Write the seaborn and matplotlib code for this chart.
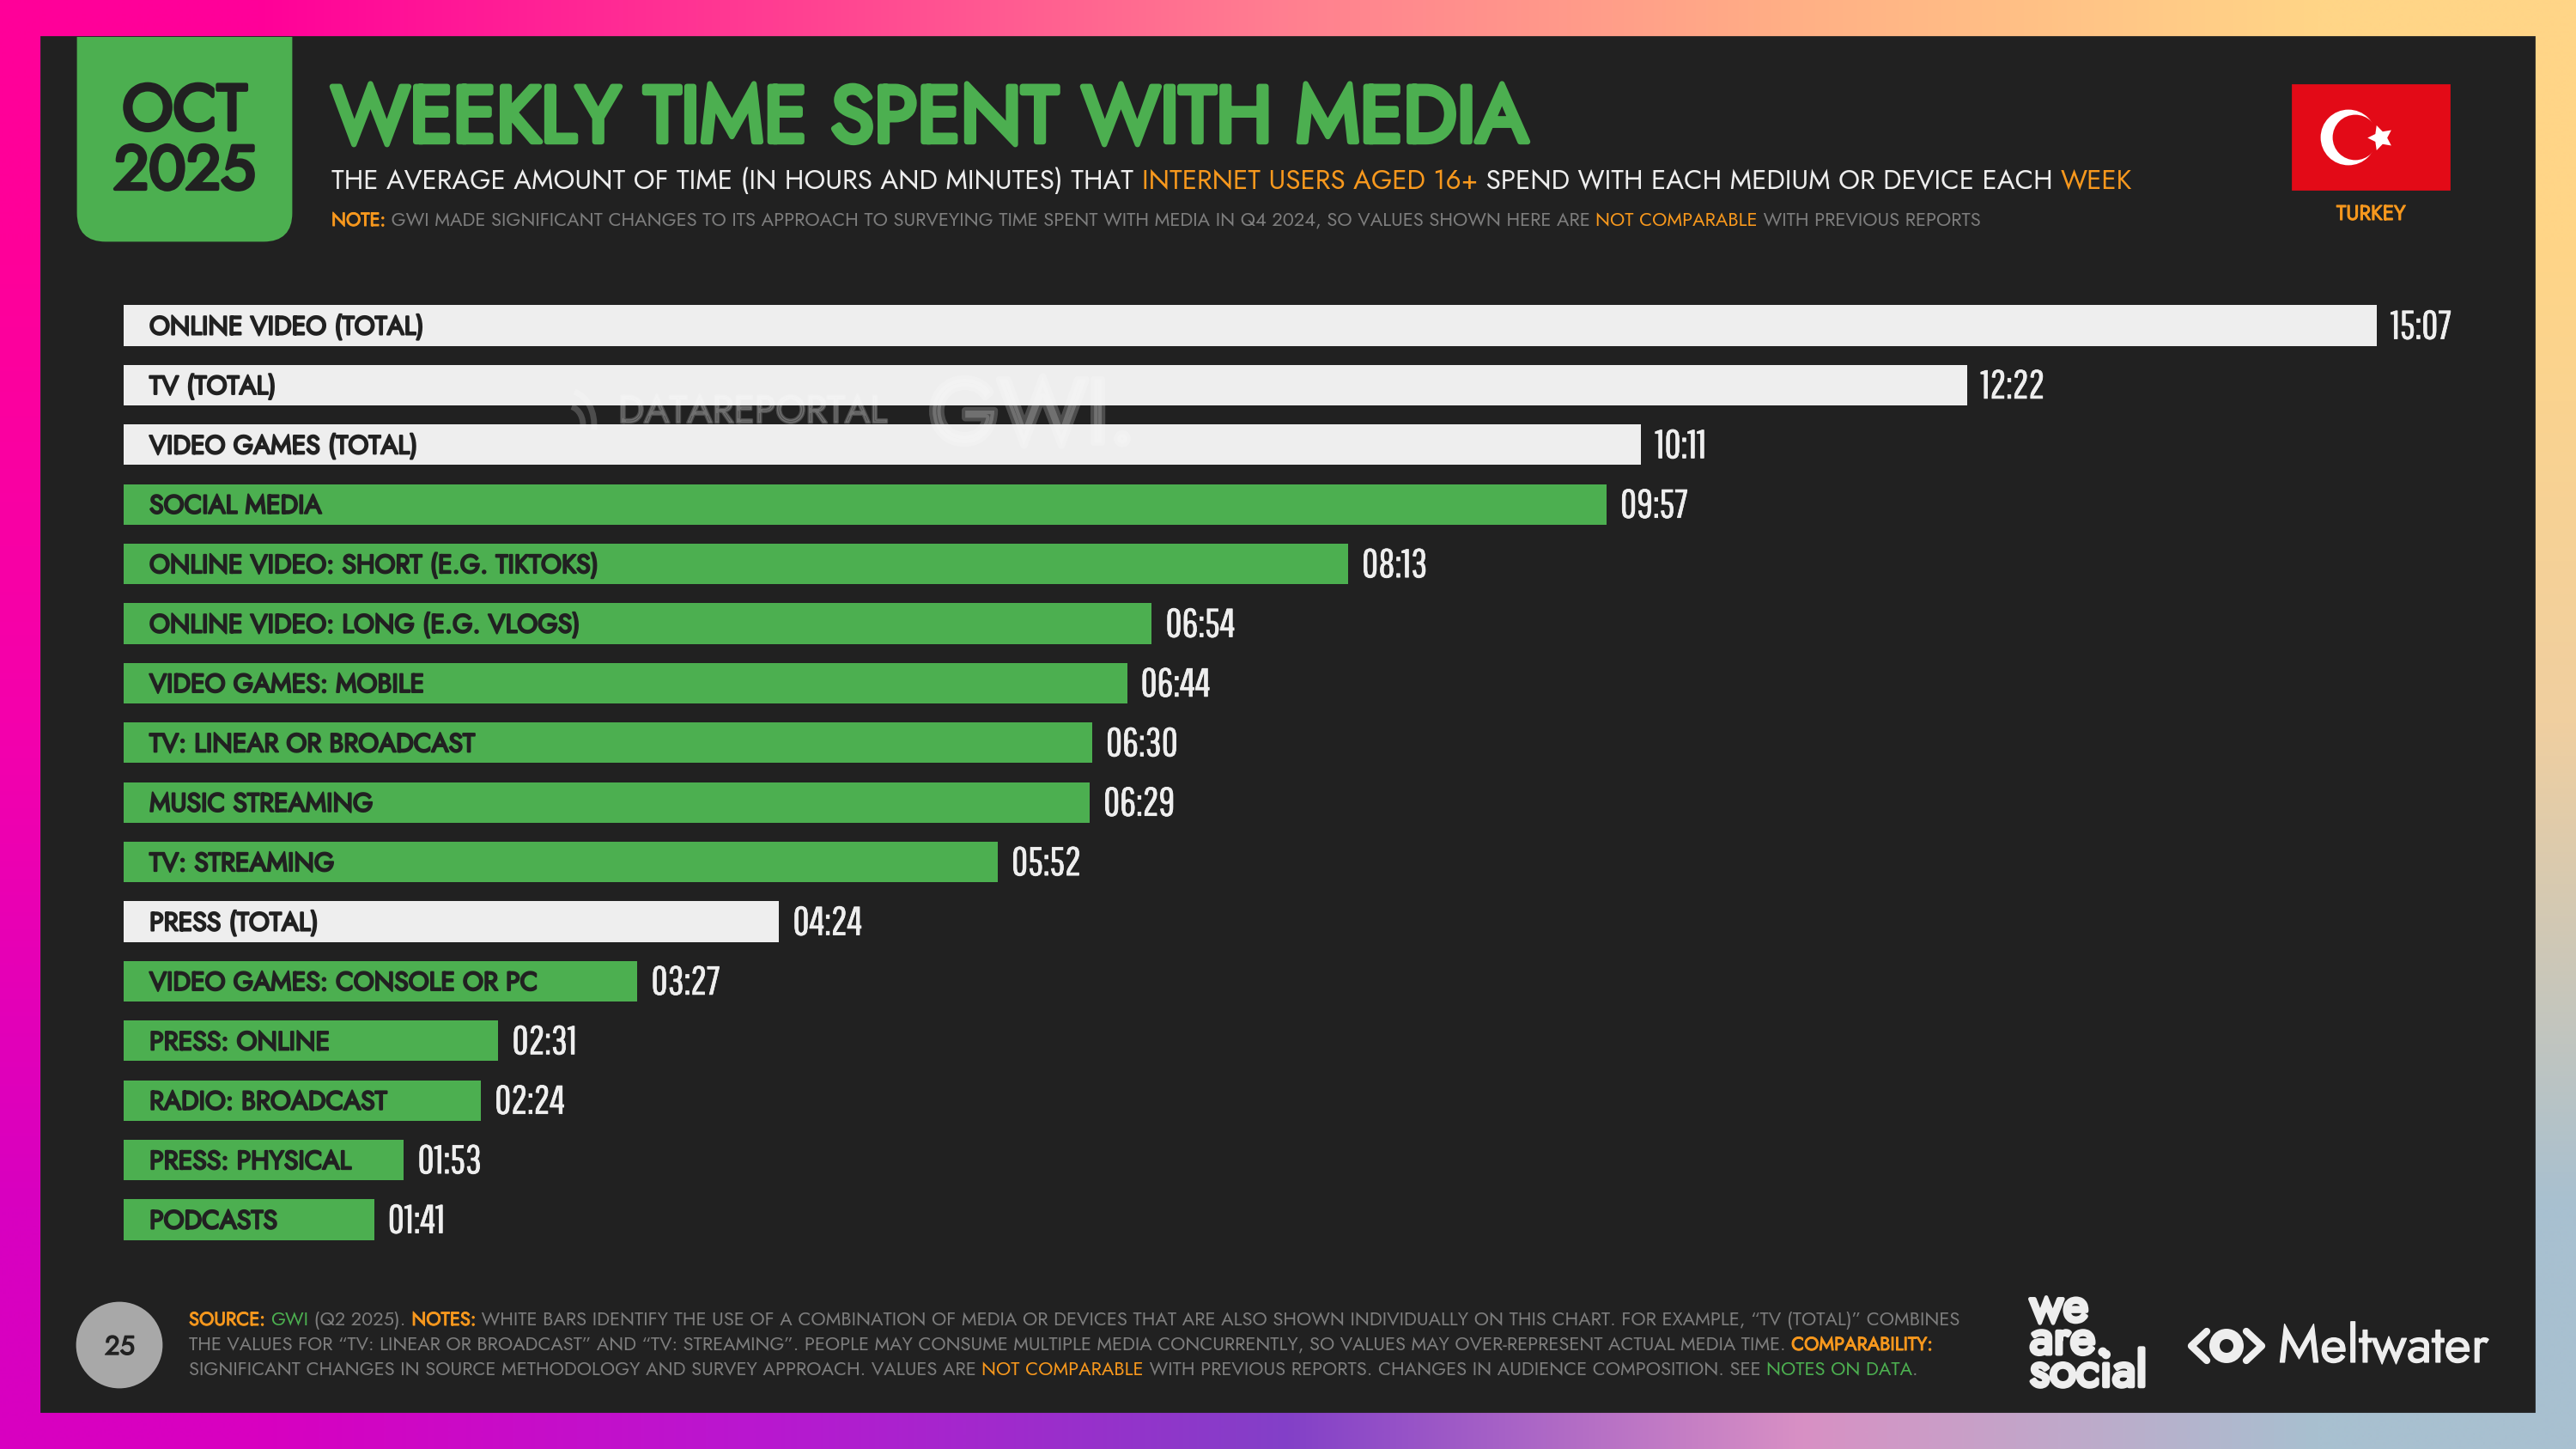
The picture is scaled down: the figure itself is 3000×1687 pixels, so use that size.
"""
Weekly time spent with media, Turkey, Oct 2025 slide.
"""

import numpy as np
import pandas as pd
import matplotlib
matplotlib.use('Agg')
import matplotlib.pyplot as plt
import matplotlib.patches as mpatches
import matplotlib.patheffects as pe
from matplotlib import font_manager as fm
from matplotlib.colors import to_rgb
from matplotlib.markers import MarkerStyle
import seaborn as sns

# Chart data
labels = ['ONLINE VIDEO (TOTAL)', 'TV (TOTAL)', 'VIDEO GAMES (TOTAL)', 'SOCIAL MEDIA',
          'ONLINE VIDEO: SHORT (E.G. TIKTOKS)', 'ONLINE VIDEO: LONG (E.G. VLOGS)',
          'VIDEO GAMES: MOBILE', 'TV: LINEAR OR BROADCAST', 'MUSIC STREAMING', 'TV: STREAMING',
          'PRESS (TOTAL)', 'VIDEO GAMES: CONSOLE OR PC', 'PRESS: ONLINE', 'RADIO: BROADCAST',
          'PRESS: PHYSICAL', 'PODCASTS']
durations = ['15:07', '12:22', '10:11', '09:57', '08:13', '06:54', '06:44', '06:30',
             '06:29', '05:52', '04:24', '03:27', '02:31', '02:24', '01:53', '01:41']
kinds = ['total', 'total', 'total', 'single', 'single', 'single', 'single', 'single',
         'single', 'single', 'total', 'single', 'single', 'single', 'single', 'single']

# Border gradient, rows top to bottom, left to right
gradient_rows = [
    ['#ff0099', '#ff3d92', '#ff7f90', '#ffb085', '#ffd587'],
    ['#f400ac', '#c060b0', '#b090b0', '#d0b0b0', '#f0cfa0'],
    ['#d800c0', '#b818d0', '#8340c8', '#d890c4', '#a8c0d0'],
]

GREEN = '#4caf50'
WHITE = '#eeeeee'
PANEL = '#212121'
ORANGE = '#f7981d'
GREY = '#7d7d7d'
BOLD = 0.045  # outline width per point of font size

installed = {f.name for f in fm.fontManager.ttflist}
BODY = 'Jost' if 'Jost' in installed else 'Lato'
NARROW = 'Pathway Gothic One' if 'Pathway Gothic One' in installed else 'Liberation Sans'

sns.set_theme(style='white')
plt.rcParams['font.family'] = [BODY, 'DejaVu Sans']

fig = plt.figure(figsize=(15, 8.435), dpi=200)
ax_bg = fig.add_axes([0, 0, 1, 1], zorder=0)
rgb = np.array([[to_rgb(c) for c in row] for row in gradient_rows])
ax_bg.imshow(rgb, extent=(0, 3000, 1687, 0), aspect='auto', interpolation='bilinear')
ax_bg.set_xlim(0, 3000)
ax_bg.set_ylim(1687, 0)
ax_bg.axis('off')
renderer = fig.canvas.get_renderer()


def heavy(color, size, amount=BOLD):
    # Jost ships as one weight here, so bold text gets a thin outline of its own colour
    return [pe.withStroke(linewidth=size * amount, foreground=color)]


def text_width(s, size):
    t = ax_bg.text(0, 0, '|' + s + '|', fontsize=size)
    w = t.get_window_extent(renderer).width
    t.set_text('||')
    w -= t.get_window_extent(renderer).width
    t.remove()
    return w


def draw_runs(x0, x1, baseline, runs):
    """Draw coloured text runs on one line, sized so that the line spans x0..x1."""
    size = 10
    for _ in range(3):
        size *= (x1 - x0) / sum(text_width(s, size) for s, c, b in runs)
    x = x0
    for s, c, b in runs:
        t = ax_bg.text(x, baseline, s, color=c, fontsize=size, ha='left', va='baseline', zorder=7)
        if b:
            t.set_path_effects(heavy(c, size, b))
        x += text_width(s, size)


# Panel and date tab
panel = mpatches.Rectangle((48, 43), 2903, 1600, color=PANEL, zorder=2)
ax_bg.add_patch(panel)
tab = mpatches.FancyBboxPatch((91, 0), 248, 280, boxstyle='round,pad=0,rounding_size=32',
                              color=GREEN, zorder=3)
ax_bg.add_patch(tab)
tab.set_clip_path(panel)
draw_runs(142.5, 287.5, 151, [('OCT', PANEL, 0.06)])
draw_runs(132.5, 297.5, 220, [('2025', PANEL, 0.06)])

# Heading
draw_runs(386, 1779, 165, [('WEEKLY TIME SPENT WITH MEDIA', GREEN, 0.07)])
draw_runs(386, 2483, 220, [
    ('THE AVERAGE AMOUNT OF TIME (IN HOURS AND MINUTES) THAT ', WHITE, 0),
    ('INTERNET USERS AGED 16+', ORANGE, 0),
    (' SPEND WITH EACH MEDIUM OR DEVICE EACH ', WHITE, 0),
    ('WEEK', ORANGE, 0),
])
draw_runs(386, 2307, 263, [
    ('NOTE:', ORANGE, BOLD),
    (' GWI MADE SIGNIFICANT CHANGES TO ITS APPROACH TO SURVEYING TIME SPENT WITH MEDIA IN Q4 2024, '
     'SO VALUES SHOWN HERE ARE ', GREY, 0),
    ('NOT COMPARABLE', ORANGE, 0),
    (' WITH PREVIOUS REPORTS', GREY, 0),
])

# Flag
ax_bg.add_patch(mpatches.Rectangle((2670, 99), 182, 121, color='#e30a17', zorder=3))
ax_bg.add_patch(mpatches.Circle((2735, 160), 31, color='white', zorder=4))
ax_bg.add_patch(mpatches.Circle((2743, 160), 25, color='#e30a17', zorder=5))
ax_bg.plot([2772], [160], marker=MarkerStyle((5, 1, 90)), ms=11, color='white', mew=0, zorder=6)
draw_runs(2721, 2802, 256, [('TURKEY', ORANGE, BOLD)])

# Footer
draw_runs(220, 2282, 1543, [
    ('SOURCE:', ORANGE, BOLD), (' ', GREY, 0), ('GWI', GREEN, 0),
    (' (Q2 2025). ', GREY, 0), ('NOTES:', ORANGE, BOLD),
    (' WHITE BARS IDENTIFY THE USE OF A COMBINATION OF MEDIA OR DEVICES THAT ARE ALSO SHOWN '
     'INDIVIDUALLY ON THIS CHART. FOR EXAMPLE, \u201cTV (TOTAL)\u201d COMBINES', GREY, 0),
])
draw_runs(220, 2252, 1572, [
    ('THE VALUES FOR \u201cTV: LINEAR OR BROADCAST\u201d AND \u201cTV: STREAMING\u201d. PEOPLE MAY '
     'CONSUME MULTIPLE MEDIA CONCURRENTLY, SO VALUES MAY OVER-REPRESENT ACTUAL MEDIA TIME. ',
     GREY, 0),
    ('COMPARABILITY:', ORANGE, BOLD),
])
draw_runs(220, 2233, 1601, [
    ('SIGNIFICANT CHANGES IN SOURCE METHODOLOGY AND SURVEY APPROACH. VALUES ARE ', GREY, 0),
    ('NOT COMPARABLE', ORANGE, 0),
    (' WITH PREVIOUS REPORTS. CHANGES IN AUDIENCE COMPOSITION. SEE ', GREY, 0),
    ('NOTES ON DATA', GREEN, 0), ('.', GREY, 0),
])

# Page number
ax_bg.add_patch(mpatches.Circle((139, 1566), 49, color='#a8a8a8', zorder=3))
draw_runs(122, 157, 1577, [('25', PANEL, BOLD)])

# Logos
ax_bg.text(2364, 1614, 'we\nare.\nsocial', color=WHITE, fontsize=20.5, ha='left', va='baseline',
           linespacing=0.55, zorder=7, path_effects=heavy(WHITE, 20.5, 0.08))
ax_bg.plot([2570, 2552, 2570], [1550, 1567, 1584], color=WHITE, lw=3, zorder=4)
ax_bg.plot([2616, 2634, 2616], [1550, 1567, 1584], color=WHITE, lw=3, zorder=4)
ax_bg.add_patch(mpatches.Circle((2593, 1567), 14, fill=False, ec=WHITE, lw=4.3, zorder=4))
draw_runs(2653, 2899, 1586, [('Meltwater', WHITE, 0.02)])

# Bars
df = pd.DataFrame({'label': labels, 'duration': durations, 'kind': kinds})
df['minutes'] = [int(d[:2]) * 60 + int(d[3:]) for d in durations]

px_per_min = (2768 - 143.5) / df['minutes'].iloc[0]
step = 69.4
left, right = 143.5, 2900
top, bottom = 379 - step / 2, 379 + 15.5 * step
ax = fig.add_axes([left / 3000, 1 - bottom / 1687, (right - left) / 3000, (bottom - top) / 1687],
                  zorder=1)
ax.patch.set_alpha(0)
sns.barplot(data=df, x='minutes', y='label', hue='kind', dodge=False, width=0.68, orient='h',
            palette={'total': WHITE, 'single': GREEN}, legend=False, saturation=1,
            linewidth=0, ax=ax)
ax.set_xlim(0, (right - left) / px_per_min)
ax.axis('off')

PT = 72 / 200  # one pixel in points
for i, row in df.iterrows():
    ax.annotate(row['label'], (0, i), xytext=(30.5 * PT, -10.5 * PT), textcoords='offset points',
                color=PANEL, fontsize=10.9, va='baseline', path_effects=heavy(PANEL, 10.9, 0.07))
    ax.annotate(row['duration'], (row['minutes'], i), xytext=(16 * PT, -15.5 * PT),
                textcoords='offset points', color=WHITE, fontsize=16.8, va='baseline',
                family=[NARROW, 'DejaVu Sans'], path_effects=heavy(WHITE, 16.8, 0.015))

# Watermark, drawn over the bars
ax_top = fig.add_axes([0, 0, 1, 1], zorder=2)
ax_top.set_xlim(0, 3000)
ax_top.set_ylim(1687, 0)
ax_top.axis('off')
WATERMARK = {'color': 'white', 'alpha': 0.2}
ax_top.text(720, 492, 'DATAREPORTAL', fontsize=16, **WATERMARK,
            path_effects=[pe.Stroke(linewidth=1.0, foreground='white', alpha=0.2)])
ax_top.text(1082, 515, 'GWI.', fontsize=37.5, **WATERMARK,
            path_effects=[pe.Stroke(linewidth=3, foreground='white', alpha=0.2)])
ax_top.add_patch(mpatches.Arc((662, 495), 60, 80, theta1=-80, theta2=10, color='white', alpha=0.2, lw=2.5))
ax_top.add_patch(mpatches.Arc((662, 495), 34, 44, theta1=-80, theta2=10, color='white', alpha=0.2, lw=2.5))

fig.savefig('out.png', dpi=200)
plt.close(fig)
